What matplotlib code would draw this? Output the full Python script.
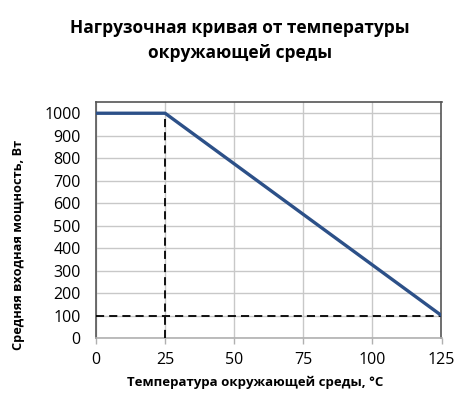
import matplotlib
matplotlib.use("Agg")
import matplotlib.pyplot as plt

temps = [0, 25, 125]
power = [1000, 1000, 100]
knee_temp = 25
min_power = 100
x_ticks = [0, 25, 50, 75, 100, 125]
y_ticks = list(range(0, 1001, 100))

title = "Нагрузочная кривая от температуры\nокружающей среды"
xlabel = "Температура окружающей среды, °C"
ylabel = "Средняя входная мощность, Вт"

plt.rcParams['font.family'] = ['Open Sans', 'DejaVu Sans']

fig = plt.figure(figsize=(4.77, 4.17), dpi=100)
ax = fig.add_axes([96/477, 79/417, (441.5-96)/477, (315-79)/417])

ax.set_xlim(0, 125)
ax.set_ylim(0, 1050)
ax.set_xticks(x_ticks)
ax.set_yticks(y_ticks)
ax.grid(True, color='#c8c8c8', linewidth=1.0)
ax.set_axisbelow(True)

# dashed guides
ax.plot([knee_temp, knee_temp], [0, power[1]], color='black', lw=1.3,
        dashes=[4.5, 2.8], zorder=3)
ax.plot([0, temps[-1]], [min_power, min_power], color='black', lw=1.3,
        dashes=[4.5, 2.8], zorder=3)

ax.plot(temps, power, color='#2c5088', lw=2.4, solid_capstyle='butt', zorder=4)

for s in ['top', 'right', 'left']:
    ax.spines[s].set_color('#555555')
    ax.spines[s].set_linewidth(1.2)
ax.spines['bottom'].set_color('#b0b0b0')
ax.spines['bottom'].set_linewidth(1.2)

ax.tick_params(axis='y', length=0, labelsize=11.5, pad=11)
ax.tick_params(axis='x', length=4, color='#b0b0b0', width=1, labelsize=11.5, pad=6)

ax.set_xlabel(xlabel, fontsize=9.5, fontweight='bold')
ax.xaxis.set_label_coords(0.46, -0.19)
ax.xaxis.label.set_va('center')
ax.set_ylabel(ylabel, fontsize=9.2, fontweight='bold')
ax.yaxis.set_label_coords(-0.223, 0.395)
ax.yaxis.label.set_va('center')

fig.text(0.503, 0.955, title, ha='center', va='top', fontsize=12.5,
         fontweight='bold', linespacing=1.5)

fig.savefig('out.png', dpi=100)
